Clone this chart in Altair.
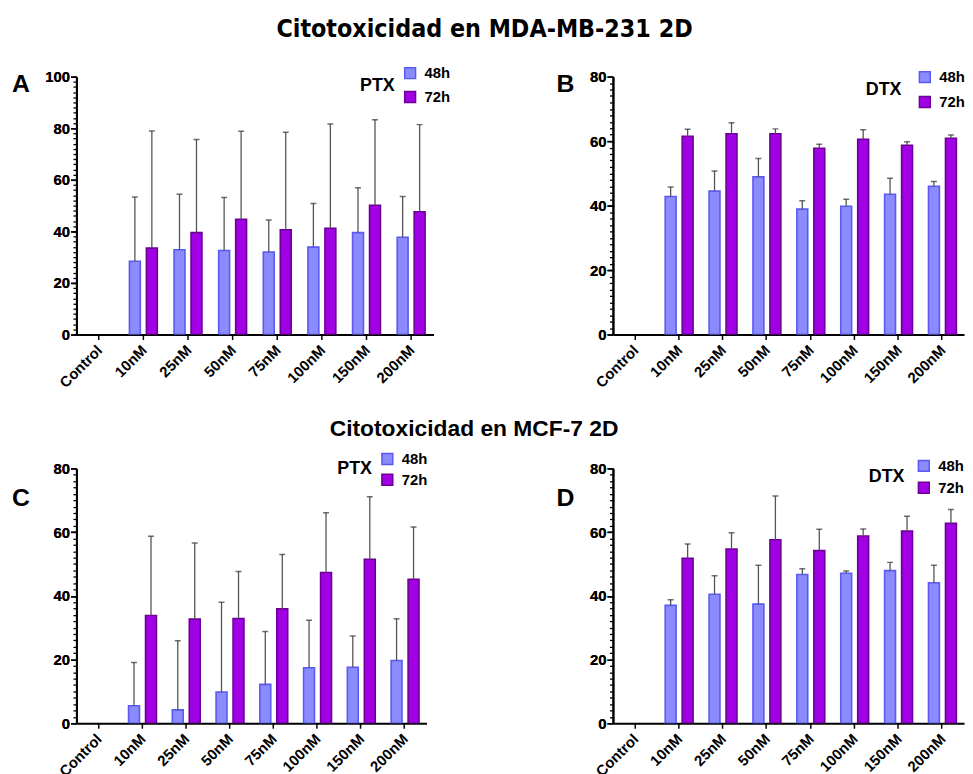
import altair as alt
import pandas as pd

cats = ["Control", "10nM", "25nM", "50nM", "75nM", "100nM", "150nM", "200nM"]
conc = cats[1:]
times = ["48h", "72h"]

# Panel A: MDA-MB-231, PTX
A_48_mean = [28.4, 32.9, 32.6, 32.0, 33.9, 39.5, 37.7]
A_48_upper = [53.3, 54.4, 53.1, 44.4, 50.8, 56.9, 53.5]
A_72_mean = [33.5, 39.5, 44.7, 40.6, 41.2, 50.1, 47.6]
A_72_upper = [78.9, 75.6, 78.8, 78.4, 81.6, 83.3, 81.4]
# Panel B: MDA-MB-231, DTX
B_48_mean = [42.8, 44.5, 48.9, 38.9, 39.8, 43.5, 46.0]
B_48_upper = [45.8, 50.7, 54.6, 41.5, 42.0, 48.5, 47.5]
B_72_mean = [61.5, 62.3, 62.3, 57.8, 60.6, 58.7, 60.9]
B_72_upper = [63.7, 65.7, 63.8, 59.0, 63.5, 59.8, 61.9]
# Panel C: MCF-7, PTX
C_48_mean = [5.5, 4.2, 9.8, 12.2, 17.4, 17.6, 19.7]
C_48_upper = [19.1, 25.9, 38.0, 28.8, 32.3, 27.4, 32.8]
C_72_mean = [33.8, 32.7, 32.9, 35.9, 47.3, 51.5, 45.2]
C_72_upper = [58.7, 56.6, 47.6, 53.0, 66.1, 71.1, 61.6]
# Panel D: MCF-7, DTX
D_48_mean = [37.0, 40.5, 37.4, 46.7, 47.1, 47.9, 44.1]
D_48_upper = [38.8, 46.3, 49.6, 48.5, 47.8, 50.5, 49.6]
D_72_mean = [51.8, 54.7, 57.6, 54.2, 58.8, 60.3, 62.8]
D_72_upper = [56.3, 59.8, 71.3, 60.9, 61.0, 65.0, 67.1]

FONT = "Liberation Sans, Arial, sans-serif"
FILLS = ["#8b8bfd", "#a200e4"]
STROKES = ["#5a5af2", "#6c0096"]


def make_df(m48, u48, m72, u72):
    rows = []
    for i, c in enumerate(conc):
        rows.append({"conc": c, "time": "48h", "mean": m48[i], "upper": u48[i]})
        rows.append({"conc": c, "time": "72h", "mean": m72[i], "upper": u72[i]})
    return pd.DataFrame(rows)


def band_params(W, first, last, n=8):
    step = (last - first) / (n - 1)
    start = first - step / 2
    total = step * n
    p = (W / step - n) / 2
    a = start / (W - total) if abs(W - total) > 1e-6 else 0.5
    a = min(1, max(0, a))
    return step, p, a


def panel(df, letter, drug, W, H, ymax, first, last, sub, legx, legy, tpad, rowpad,
          letx, lety):
    step, p, a = band_params(W, first, last)
    po = (step / sub - 2) / 2
    xaxis = alt.Axis(
        title=None, labelAngle=-45, labelFont=FONT, labelFontSize=15,
        labelFontWeight="bold", labelColor="black", labelPadding=3, labelOffset=-4,
        tickSize=5, tickColor="black", tickWidth=1.5,
        domainColor="black", domainWidth=2, grid=False, labelOverlap=False,
    )
    major = alt.Axis(
        title=None, values=list(range(0, ymax + 1, 20)),
        labelFont=FONT, labelFontSize=15, labelFontWeight="bold",
        labelColor="black", labelPadding=1, labelOverlap=False, labelFlush=False,
        tickSize=6, tickColor="black", tickWidth=1.5,
        domainColor="black", domainWidth=2, grid=False, orient="left",
    )
    minor = alt.Axis(
        title=None, values=list(range(0, ymax + 1, 2)), labels=False,
        tickSize=3.5, tickColor="black", tickWidth=1.3, domain=False,
        grid=False, orient="left",
    )
    xenc = alt.X("conc:N", scale=alt.Scale(domain=cats, paddingInner=0,
                                           paddingOuter=alt.ExprRef(f"{p:.5f}"),
                                           align=a), axis=xaxis)
    xo = alt.XOffset("time:N", scale=alt.Scale(domain=times, paddingInner=0, paddingOuter=po))
    yscale = alt.Scale(domain=[0, ymax], nice=False)
    leg = alt.Legend(
        orient="none", legendX=legx, legendY=legy, title=drug, titleOrient="left",
        titleFont=FONT, titleFontSize=18, titleFontWeight="bold", titleColor="black",
        titleAnchor="middle", titleBaseline="middle", titlePadding=tpad,
        labelFont=FONT, labelFontSize=15, labelFontWeight="bold", labelColor="black",
        labelOffset=7, symbolType="square", symbolSize=120, symbolStrokeWidth=1.5,
        rowPadding=rowpad, padding=0,
    )
    base = alt.Chart(df)
    bars = base.mark_bar(size=11, strokeWidth=1.6, clip=True).encode(
        x=xenc, xOffset=xo,
        y=alt.Y("mean:Q", scale=yscale, axis=major),
        fill=alt.Fill("time:N", scale=alt.Scale(domain=times, range=FILLS), legend=leg),
        stroke=alt.Stroke("time:N", scale=alt.Scale(domain=times, range=STROKES), legend=leg),
    )
    err = base.mark_rule(color="#555555", strokeWidth=1.3, clip=True).encode(
        x=xenc, xOffset=xo, y=alt.Y("mean:Q", scale=yscale, axis=major), y2="upper:Q"
    )
    cap = base.mark_tick(color="#333333", size=6, thickness=1.5, clip=True).encode(
        x=xenc, xOffset=xo, y=alt.Y("upper:Q", scale=yscale, axis=minor)
    )
    lab = alt.Chart(pd.DataFrame({"t": [letter]})).mark_text(
        font=FONT, fontSize=25, fontWeight="bold", align="left", baseline="middle",
        color="black",
    ).encode(text="t:N", x=alt.value(letx), y=alt.value(lety))
    return alt.layer(bars, err, cap, lab).resolve_axis(y="independent").properties(
        width=W, height=H)


pA = panel(make_df(A_48_mean, A_48_upper, A_72_mean, A_72_upper), "A", "PTX",
           360, 260, 100, 19, 339, 17.4, 286, -11, 7, 7, -65, 7)
pB = panel(make_df(B_48_mean, B_48_upper, B_72_mean, B_72_upper), "B", "DTX",
           354, 260, 80, 20.6, 340.6, 17.4, 255, -7, 16, 8, -57, 7)
pC = panel(make_df(C_48_mean, C_48_upper, C_72_mean, C_72_upper), "C", "PTX",
           353, 257, 80, 19.3, 332.3, 17.0, 263, -17, 7, 4, -65, 30)
pD = panel(make_df(D_48_mean, D_48_upper, D_72_mean, D_72_upper), "D", "DTX",
           354, 257, 80, 20.7, 339.7, 17.4, 258, -10, 12, 5, -57, 30)

row1 = alt.hconcat(pA, pB, spacing=181, bounds="flush").resolve_scale(
    fill="independent", stroke="independent"
).resolve_legend(fill="independent", stroke="independent").properties(
    title=alt.TitleParams("Citotoxicidad en MDA-MB-231 2D",
                          font="Liberation Sans Narrow, DejaVu Sans Condensed, Liberation Sans",
                          fontSize=25, fontWeight="bold", color="black",
                          anchor="middle", offset=24, dx=-4)
)
row2 = alt.hconcat(pC, pD, spacing=188, bounds="flush").resolve_scale(
    fill="independent", stroke="independent"
).resolve_legend(fill="independent", stroke="independent").properties(
    title=alt.TitleParams("Citotoxicidad en MCF-7 2D", font=FONT, fontSize=23,
                          fontWeight="bold", color="black", anchor="middle", offset=11,
                          dx=-14)
)

chart = alt.vconcat(row1, row2, spacing=27).resolve_scale(
    fill="independent", stroke="independent"
).resolve_legend(fill="independent", stroke="independent").properties(
    padding={"left": 4, "top": 6, "right": 0, "bottom": 0}
).configure_view(stroke=None)

chart.save("out.html", embed_options={"renderer": "svg", "actions": False})
